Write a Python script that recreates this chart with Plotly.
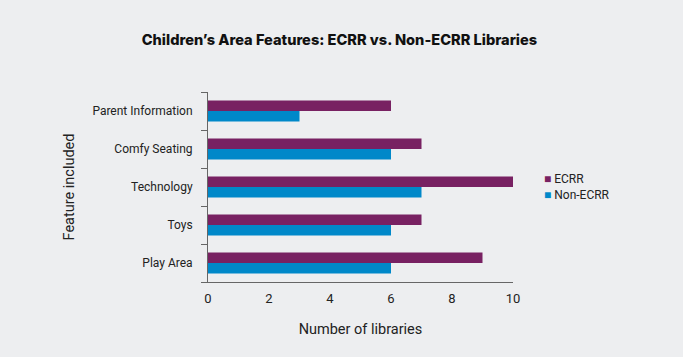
import plotly.graph_objects as go

categories = ["Play Area", "Toys", "Technology", "Comfy Seating", "Parent Information"]
ecrr = [9, 7, 10, 7, 6]
non_ecrr = [6, 6, 7, 6, 3]
x_ticks = [0, 2, 4, 6, 8, 10]
series_names = ["ECRR", "Non-ECRR"]

BG = "#edeef0"
PURPLE = "#782162"
BLUE = "#0088c9"

fig = go.Figure()
fig.add_trace(go.Bar(y=categories, x=non_ecrr, name=series_names[1], orientation="h",
                     marker=dict(color=BLUE, line=dict(width=0))))
fig.add_trace(go.Bar(y=categories, x=ecrr, name=series_names[0], orientation="h",
                     marker=dict(color=PURPLE, line=dict(width=0))))

legend_text = (f"<span style='color:{PURPLE}'>■</span> {series_names[0]}<br>"
               f"<span style='color:{BLUE}'>■</span> {series_names[1]}")

fig.update_layout(
    width=683, height=357,
    paper_bgcolor=BG, plot_bgcolor=BG,
    margin=dict(l=208, r=170, t=92, b=75),
    barmode="group", bargap=0.45, bargroupgap=0,
    font=dict(family="Roboto, Arial, sans-serif", size=12, color="#222222"),
    title=dict(text="Children’s Area Features: ECRR vs. Non-ECRR Libraries",
               x=0.497, xanchor="center", y=0.888, yanchor="middle",
               font=dict(family="Inter, Roboto, sans-serif", size=14.6, weight=800, color="#111111")),
    showlegend=False,
    annotations=[dict(text=legend_text, xref="paper", yref="paper", x=1.095, y=0.5,
                      xanchor="left", yanchor="middle", align="left", showarrow=False,
                      font=dict(size=12, color="#222222"))],
)
fig.update_xaxes(range=[0, 10], tickvals=x_ticks, showgrid=False, zeroline=False,
                 showline=True, linecolor="#666666", linewidth=1, ticks="",
                 ticklabelstandoff=4,
                 tickfont=dict(size=13, color="#222222"),
                 title=dict(text="Number of libraries", font=dict(size=14.5, color="#222222"), standoff=19))
fig.update_yaxes(showgrid=False, showline=True, linecolor="#666666", linewidth=1,
                 ticks="outside", tickson="boundaries", ticklen=6, tickcolor="#666666",
                 ticklabelstandoff=12,
                 tickfont=dict(size=12, color="#222222"),
                 title=dict(text="Feature included", font=dict(size=14.5, color="#222222"), standoff=14))
fig.write_html("out.html", config={"displayModeBar": False},
               post_script="document.body.style.margin='0';document.body.style.background='#edeef0';")
